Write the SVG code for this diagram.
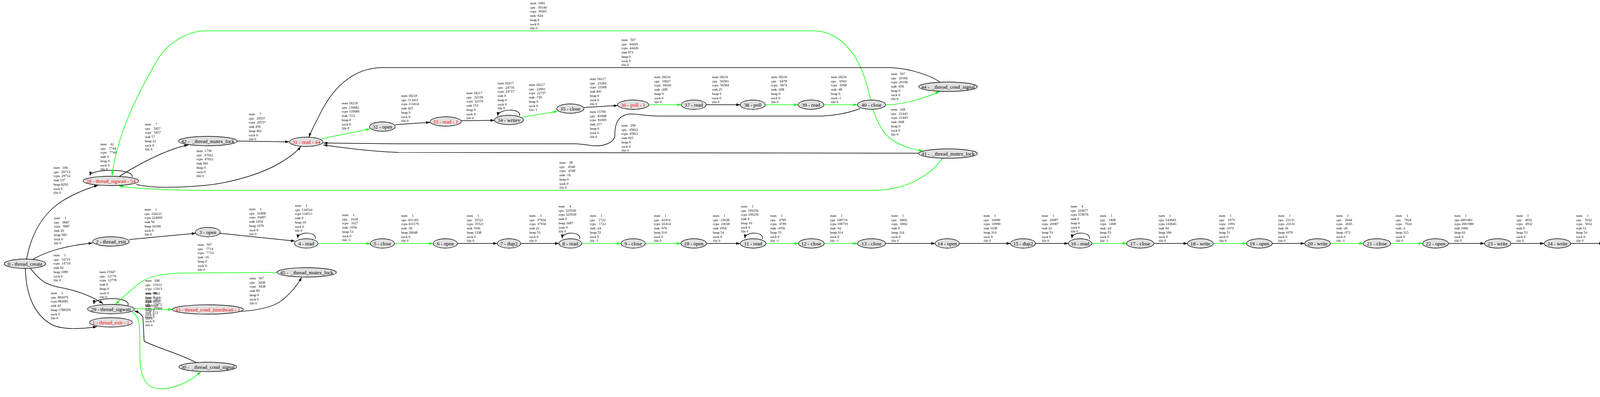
<svg xmlns="http://www.w3.org/2000/svg" width="4556" height="1016" viewBox="0 0 4556 1016">
<defs>
<marker id="ab" markerWidth="10" markerHeight="7" refX="10" refY="3.5" orient="auto" markerUnits="userSpaceOnUse"><path d="M0,0 L10,3.5 L0,7 z" fill="#000"/></marker>
<marker id="ag" markerWidth="10" markerHeight="7" refX="10" refY="3.5" orient="auto" markerUnits="userSpaceOnUse"><path d="M0,0 L10,3.5 L0,7 z" fill="#00ff00"/></marker>
<style>
.n ellipse{fill:#e0e0e0;stroke:#000;stroke-width:1.3}
.n text{font-family:"Liberation Serif",serif;font-size:13.2px;text-anchor:middle;fill:#000;white-space:pre}
.n.r text{fill:#ff0000}
.l{font-family:"Liberation Serif",serif;font-size:9px;fill:#000;white-space:pre}
#edges path{fill:none;stroke:#000;stroke-width:1.5;marker-end:url(#ab)}
#edges path.g{stroke:#00ff00;marker-end:url(#ag)}
</style>
</defs>
<rect width="4556" height="1016" fill="#fff"/>
<g id="edges">
<path d="M84,664 C115,645 170,628 237,622"/>
<path d="M68,663 C80,600 110,540 172,507 C195,494 225,482 251,474"/>
<path d="M78,687 C100,715 115,728 150,735 C190,742 230,755 264,777"/>
<path d="M65,687 C66,740 80,800 131,830 C160,845 210,842 248,836"/>
<path d="M331,613 L501,597"/>
<path d="M563,597 L755,617"/>
<path d="M327,782 C340,760 242,758 240,778"/>
<path d="M338,453 C346,431 234,431 230,449"/>
<path class="g" d="M344,790 L441,792"/>
<path d="M612,797 C660,795 700,785 720,770 C740,755 760,732 772,710"/>
<path class="g" d="M709,697 L455,699 C400,702 370,712 350,730 C330,748 312,762 296,779"/>
<path class="g" d="M338,798 C360,810 358,840 358,900 C357,960 370,995 410,995 C450,995 490,975 514,951"/>
<path d="M502,928 C460,905 400,890 369,873 L366,813 C362,803 352,798 344,796"/>
<path d="M306,451 C340,430 380,408 410,395 C440,382 460,375 482,371"/>
<path d="M607,361 L740,363"/>
<path d="M349,472 C390,482 450,481 520,475 C600,468 680,440 720,415 C745,400 760,388 770,375"/>
<path class="g" d="M823,355 L947,330"/>
<path d="M1012,319 L1101,313"/>
<path d="M1180,309 L1266,308"/>
<path d="M1330,296 C1336,277 1276,277 1274,297"/>
<path class="g" d="M1336,300 L1427,285"/>
<path d="M1495,275 L1581,270"/>
<path class="g" d="M1660,268 L1744,268"/>
<path d="M1808,268 L1895,268"/>
<path class="g" d="M1959,268 L2043,268"/>
<path class="g" d="M2108,268 L2195,268"/>
<path class="g" d="M2266,268 C2310,268 2360,255 2405,234"/>
<path class="g" d="M2235,280 C2245,310 2260,345 2290,362 C2315,377 2340,382 2362,386"/>
<path class="g" d="M2229,257 C2215,190 2190,120 2130,90 C2110,80 2095,79 2080,79 L523,79 C480,80 430,110 405,150 C360,225 300,340 287,449"/>
<path class="g" d="M2413,405 C2380,450 2320,487 2236,487 L485,487 C400,485 340,482 305,476"/>
<path d="M2406,210 C2385,195 2330,173 2270,173 L980,173 C900,173 850,230 820,290 C805,320 795,338 791,351"/>
<path d="M2202,278 C2170,290 2130,297 2095,297 L1686,297 C1650,297 1630,290 1610,292 C1580,296 1574,320 1574,345 C1574,365 1545,375 1520,373 C1500,371 1490,368 1470,368 L1020,368 L828,366"/>
<path d="M2352,392 L1020,390 C950,388 880,378 828,371"/>
<path d="M807,611 C812,593 763,591 762,610"/>
<path d="M1484,611 C1489,593 1440,591 1439,610"/>
<path d="M1952,611 C1957,593 1908,591 1907,610"/>
<path d="M2789,611 C2794,593 2745,591 2744,610"/>
<path class="g" d="M814,623 L948,623"/>
<path class="g" d="M1010,623 L1109,623"/>
<path d="M1171,623 L1273,623"/>
<path d="M1333,623 L1431,623"/>
<path class="g" d="M1489,623 L1590,623"/>
<path class="g" d="M1652,623 L1743,623"/>
<path d="M1809,623 L1895,623"/>
<path class="g" d="M1961,623 L2044,623"/>
<path class="g" d="M2110,623 L2195,623"/>
<path d="M2267,623 L2394,623"/>
<path d="M2456,623 L2587,623"/>
<path d="M2651,623 L2735,623"/>
<path class="g" d="M2795,623 L2884,623"/>
<path d="M2954,623 L3040,623"/>
<path class="g" d="M3106,623 L3191,623"/>
<path d="M3257,623 L3340,623"/>
<path class="g" d="M3406,623 L3490,623"/>
<path class="g" d="M3560,623 L3642,623"/>
<path d="M3708,623 L3800,623"/>
<path d="M3868,623 L3953,623"/>
<path d="M4021,623 L4104,623"/>
<path d="M4172,623 L4257,623"/>
<path class="g" d="M4325,623 L4409,623"/>
</g>
<g id="edge-labels">
<text class="l" transform="translate(137,432)"><tspan x="0">num   100</tspan><tspan x="0" dy="10.7">cpu   29713</tspan><tspan x="0" dy="10.7">rcpu  29712</tspan><tspan x="0" dy="10.7">stak 537</tspan><tspan x="0" dy="10.7">heap 8292</tspan><tspan x="0" dy="10.7">sock 0</tspan><tspan x="0" dy="10.7">file 0</tspan></text>
<text class="l" transform="translate(138,561)"><tspan x="0">num     1</tspan><tspan x="0" dy="10.7">cpu    9687</tspan><tspan x="0" dy="10.7">rcpu   9687</tspan><tspan x="0" dy="10.7">stak 26</tspan><tspan x="0" dy="10.7">heap 583</tspan><tspan x="0" dy="10.7">sock 0</tspan><tspan x="0" dy="10.7">file 0</tspan></text>
<text class="l" transform="translate(370,539)"><tspan x="0">num     1</tspan><tspan x="0" dy="10.7">cpu  224121</tspan><tspan x="0" dy="10.7">rcpu 224009</tspan><tspan x="0" dy="10.7">stak 56</tspan><tspan x="0" dy="10.7">heap 34166</tspan><tspan x="0" dy="10.7">sock 0</tspan><tspan x="0" dy="10.7">file 0</tspan></text>
<text class="l" transform="translate(137,656)"><tspan x="0">num     1</tspan><tspan x="0" dy="10.7">cpu   14719</tspan><tspan x="0" dy="10.7">rcpu  14719</tspan><tspan x="0" dy="10.7">stak 82</tspan><tspan x="0" dy="10.7">heap 1089</tspan><tspan x="0" dy="10.7">sock 0</tspan><tspan x="0" dy="10.7">file 0</tspan></text>
<text class="l" transform="translate(130,753)"><tspan x="0">num     1</tspan><tspan x="0" dy="10.7">cpu  882079</tspan><tspan x="0" dy="10.7">rcpu 882081</tspan><tspan x="0" dy="10.7">stak 42</tspan><tspan x="0" dy="10.7">heap 1788359</tspan><tspan x="0" dy="10.7">sock 0</tspan><tspan x="0" dy="10.7">file 0</tspan></text>
<text class="l" transform="translate(255,699)"><tspan x="0">num 15947</tspan><tspan x="0" dy="10.7">cpu   12779</tspan><tspan x="0" dy="10.7">rcpu  12778</tspan><tspan x="0" dy="10.7">stak 0</tspan><tspan x="0" dy="10.7">heap 0</tspan><tspan x="0" dy="10.7">sock 0</tspan><tspan x="0" dy="10.7">file 0</tspan></text>
<text class="l" transform="translate(506,629)"><tspan x="0">num   507</tspan><tspan x="0" dy="10.7">cpu    7714</tspan><tspan x="0" dy="10.7">rcpu   7714</tspan><tspan x="0" dy="10.7">stak -16</tspan><tspan x="0" dy="10.7">heap 0</tspan><tspan x="0" dy="10.7">sock 0</tspan><tspan x="0" dy="10.7">file 0</tspan></text>
<text class="l" transform="translate(639,715)"><tspan x="0">num   507</tspan><tspan x="0" dy="10.7">cpu    3438</tspan><tspan x="0" dy="10.7">rcpu   3438</tspan><tspan x="0" dy="10.7">stak 89</tspan><tspan x="0" dy="10.7">heap 0</tspan><tspan x="0" dy="10.7">sock 0</tspan><tspan x="0" dy="10.7">file 0</tspan></text>
<text class="l" transform="translate(372,721)"><tspan x="0">num   508</tspan><tspan x="0" dy="10.7">cpu   11913</tspan><tspan x="0" dy="10.7">rcpu  11913</tspan><tspan x="0" dy="10.7">stak -88</tspan><tspan x="0" dy="10.7">heap 0</tspan><tspan x="0" dy="10.7">sock 0</tspan><tspan x="0" dy="10.7">file 0</tspan></text>
<text class="l" transform="translate(372,754)"><tspan x="0">num  9861</tspan><tspan x="0" dy="10.7">cpu    9406</tspan><tspan x="0" dy="10.7">rcpu   9107</tspan><tspan x="0" dy="10.7">stak -105</tspan><tspan x="0" dy="10.7">heap 0</tspan><tspan x="0" dy="10.7">sock 0</tspan><tspan x="0" dy="10.7">file 0</tspan></text>
<text class="l" transform="translate(372,771)"><tspan x="0">num  1861</tspan><tspan x="0" dy="10.7">cpu   15972</tspan><tspan x="0" dy="10.7">rcpu  15968</tspan><tspan x="0" dy="10.7">stak -112</tspan><tspan x="0" dy="10.7">heap 0</tspan><tspan x="0" dy="10.7">sock 0</tspan><tspan x="0" dy="10.7">file 0</tspan></text>
<text class="l" transform="translate(257,372)"><tspan x="0">num    42</tspan><tspan x="0" dy="10.7">cpu    7744</tspan><tspan x="0" dy="10.7">rcpu   7744</tspan><tspan x="0" dy="10.7">stak 0</tspan><tspan x="0" dy="10.7">heap 0</tspan><tspan x="0" dy="10.7">sock 0</tspan><tspan x="0" dy="10.7">file 0</tspan></text>
<text class="l" transform="translate(371,321)"><tspan x="0">num     7</tspan><tspan x="0" dy="10.7">cpu    5457</tspan><tspan x="0" dy="10.7">rcpu   5457</tspan><tspan x="0" dy="10.7">stak 57</tspan><tspan x="0" dy="10.7">heap 22</tspan><tspan x="0" dy="10.7">sock 0</tspan><tspan x="0" dy="10.7">file 0</tspan></text>
<text class="l" transform="translate(637,295)"><tspan x="0">num     7</tspan><tspan x="0" dy="10.7">cpu   29557</tspan><tspan x="0" dy="10.7">rcpu  29557</tspan><tspan x="0" dy="10.7">stak 456</tspan><tspan x="0" dy="10.7">heap 462</tspan><tspan x="0" dy="10.7">sock 0</tspan><tspan x="0" dy="10.7">file 0</tspan></text>
<text class="l" transform="translate(503,389)"><tspan x="0">num  1758</tspan><tspan x="0" dy="10.7">cpu   47022</tspan><tspan x="0" dy="10.7">rcpu  47022</tspan><tspan x="0" dy="10.7">stak 841</tspan><tspan x="0" dy="10.7">heap 0</tspan><tspan x="0" dy="10.7">sock 0</tspan><tspan x="0" dy="10.7">file 0</tspan></text>
<text class="l" transform="translate(875,267)"><tspan x="0">num 18218</tspan><tspan x="0" dy="10.7">cpu  116682</tspan><tspan x="0" dy="10.7">rcpu 116686</tspan><tspan x="0" dy="10.7">stak -512</tspan><tspan x="0" dy="10.7">heap 0</tspan><tspan x="0" dy="10.7">sock 0</tspan><tspan x="0" dy="10.7">file 0</tspan></text>
<text class="l" transform="translate(1027,248)"><tspan x="0">num 18218</tspan><tspan x="0" dy="10.7">cpu  113411</tspan><tspan x="0" dy="10.7">rcpu 113414</tspan><tspan x="0" dy="10.7">stak 425</tspan><tspan x="0" dy="10.7">heap 0</tspan><tspan x="0" dy="10.7">sock 0</tspan><tspan x="0" dy="10.7">file 0</tspan></text>
<text class="l" transform="translate(1194,241)"><tspan x="0">num 18217</tspan><tspan x="0" dy="10.7">cpu   32158</tspan><tspan x="0" dy="10.7">rcpu  32159</tspan><tspan x="0" dy="10.7">stak 153</tspan><tspan x="0" dy="10.7">heap 0</tspan><tspan x="0" dy="10.7">sock 0</tspan><tspan x="0" dy="10.7">file 0</tspan></text>
<text class="l" transform="translate(1274,216)"><tspan x="0">num 18217</tspan><tspan x="0" dy="10.7">cpu   24716</tspan><tspan x="0" dy="10.7">rcpu  24717</tspan><tspan x="0" dy="10.7">stak 0</tspan><tspan x="0" dy="10.7">heap 0</tspan><tspan x="0" dy="10.7">sock 0</tspan><tspan x="0" dy="10.7">file 0</tspan></text>
<text class="l" transform="translate(1354,220)"><tspan x="0">num 18217</tspan><tspan x="0" dy="10.7">cpu   22691</tspan><tspan x="0" dy="10.7">rcpu  22737</tspan><tspan x="0" dy="10.7">stak -720</tspan><tspan x="0" dy="10.7">heap 0</tspan><tspan x="0" dy="10.7">sock 0</tspan><tspan x="0" dy="10.7">file -1</tspan></text>
<text class="l" transform="translate(1510,205)"><tspan x="0">num 18217</tspan><tspan x="0" dy="10.7">cpu   23284</tspan><tspan x="0" dy="10.7">rcpu  23306</tspan><tspan x="0" dy="10.7">stak 841</tspan><tspan x="0" dy="10.7">heap 0</tspan><tspan x="0" dy="10.7">sock 0</tspan><tspan x="0" dy="10.7">file 0</tspan></text>
<text class="l" transform="translate(1510,289)"><tspan x="0">num 15700</tspan><tspan x="0" dy="10.7">cpu   81008</tspan><tspan x="0" dy="10.7">rcpu  81005</tspan><tspan x="0" dy="10.7">stak 217</tspan><tspan x="0" dy="10.7">heap 0</tspan><tspan x="0" dy="10.7">sock 0</tspan><tspan x="0" dy="10.7">file 0</tspan></text>
<text class="l" transform="translate(1591,324)"><tspan x="0">num   290</tspan><tspan x="0" dy="10.7">cpu   45822</tspan><tspan x="0" dy="10.7">rcpu  45821</tspan><tspan x="0" dy="10.7">stak 825</tspan><tspan x="0" dy="10.7">heap 0</tspan><tspan x="0" dy="10.7">sock 0</tspan><tspan x="0" dy="10.7">file 0</tspan></text>
<text class="l" transform="translate(1432,419)"><tspan x="0">num    38</tspan><tspan x="0" dy="10.7">cpu    4548</tspan><tspan x="0" dy="10.7">rcpu   4548</tspan><tspan x="0" dy="10.7">stak -16</tspan><tspan x="0" dy="10.7">heap 0</tspan><tspan x="0" dy="10.7">sock 0</tspan><tspan x="0" dy="10.7">file 0</tspan></text>
<text class="l" transform="translate(1675,200)"><tspan x="0">num 18216</tspan><tspan x="0" dy="10.7">cpu   16027</tspan><tspan x="0" dy="10.7">rcpu  16026</tspan><tspan x="0" dy="10.7">stak -208</tspan><tspan x="0" dy="10.7">heap 0</tspan><tspan x="0" dy="10.7">sock 0</tspan><tspan x="0" dy="10.7">file 0</tspan></text>
<text class="l" transform="translate(1823,200)"><tspan x="0">num 18216</tspan><tspan x="0" dy="10.7">cpu   56583</tspan><tspan x="0" dy="10.7">rcpu  56584</tspan><tspan x="0" dy="10.7">stak 25</tspan><tspan x="0" dy="10.7">heap 0</tspan><tspan x="0" dy="10.7">sock 0</tspan><tspan x="0" dy="10.7">file 0</tspan></text>
<text class="l" transform="translate(1974,200)"><tspan x="0">num 18216</tspan><tspan x="0" dy="10.7">cpu    9478</tspan><tspan x="0" dy="10.7">rcpu   9474</tspan><tspan x="0" dy="10.7">stak -208</tspan><tspan x="0" dy="10.7">heap 0</tspan><tspan x="0" dy="10.7">sock 0</tspan><tspan x="0" dy="10.7">file 0</tspan></text>
<text class="l" transform="translate(2127,200)"><tspan x="0">num 18216</tspan><tspan x="0" dy="10.7">cpu    6565</tspan><tspan x="0" dy="10.7">rcpu   6568</tspan><tspan x="0" dy="10.7">stak -48</tspan><tspan x="0" dy="10.7">heap 0</tspan><tspan x="0" dy="10.7">sock -1</tspan><tspan x="0" dy="10.7">file 0</tspan></text>
<text class="l" transform="translate(2281,192)"><tspan x="0">num   507</tspan><tspan x="0" dy="10.7">cpu   29166</tspan><tspan x="0" dy="10.7">rcpu  29166</tspan><tspan x="0" dy="10.7">stak -656</tspan><tspan x="0" dy="10.7">heap 0</tspan><tspan x="0" dy="10.7">sock 0</tspan><tspan x="0" dy="10.7">file 0</tspan></text>
<text class="l" transform="translate(2281,283)"><tspan x="0">num   328</tspan><tspan x="0" dy="10.7">cpu   21443</tspan><tspan x="0" dy="10.7">rcpu  21443</tspan><tspan x="0" dy="10.7">stak -608</tspan><tspan x="0" dy="10.7">heap 0</tspan><tspan x="0" dy="10.7">sock 0</tspan><tspan x="0" dy="10.7">file 0</tspan></text>
<text class="l" transform="translate(1591,105)"><tspan x="0">num   507</tspan><tspan x="0" dy="10.7">cpu   44426</tspan><tspan x="0" dy="10.7">rcpu  44426</tspan><tspan x="0" dy="10.7">stak 873</tspan><tspan x="0" dy="10.7">heap 0</tspan><tspan x="0" dy="10.7">sock 0</tspan><tspan x="0" dy="10.7">file 0</tspan></text>
<text class="l" transform="translate(1357,11)"><tspan x="0">num  1681</tspan><tspan x="0" dy="10.7">cpu   39144</tspan><tspan x="0" dy="10.7">rcpu  39301</tspan><tspan x="0" dy="10.7">stak -624</tspan><tspan x="0" dy="10.7">heap 0</tspan><tspan x="0" dy="10.7">sock 0</tspan><tspan x="0" dy="10.7">file 0</tspan></text>
<text class="l" transform="translate(638,538)"><tspan x="0">num     1</tspan><tspan x="0" dy="10.7">cpu   33498</tspan><tspan x="0" dy="10.7">rcpu  33497</tspan><tspan x="0" dy="10.7">stak 1054</tspan><tspan x="0" dy="10.7">heap 1079</tspan><tspan x="0" dy="10.7">sock 0</tspan><tspan x="0" dy="10.7">file 0</tspan></text>
<text class="l" transform="translate(755,529)"><tspan x="0">num     1</tspan><tspan x="0" dy="10.7">cpu  134524</tspan><tspan x="0" dy="10.7">rcpu 134511</tspan><tspan x="0" dy="10.7">stak 0</tspan><tspan x="0" dy="10.7">heap 10</tspan><tspan x="0" dy="10.7">sock 0</tspan><tspan x="0" dy="10.7">file 0</tspan></text>
<text class="l" transform="translate(876,553)"><tspan x="0">num     1</tspan><tspan x="0" dy="10.7">cpu    3318</tspan><tspan x="0" dy="10.7">rcpu   3327</tspan><tspan x="0" dy="10.7">stak -1056</tspan><tspan x="0" dy="10.7">heap 53</tspan><tspan x="0" dy="10.7">sock 0</tspan><tspan x="0" dy="10.7">file -1</tspan></text>
<text class="l" transform="translate(1027,555)"><tspan x="0">num     1</tspan><tspan x="0" dy="10.7">cpu  431183</tspan><tspan x="0" dy="10.7">rcpu 431179</tspan><tspan x="0" dy="10.7">stak -56</tspan><tspan x="0" dy="10.7">heap 26648</tspan><tspan x="0" dy="10.7">sock 0</tspan><tspan x="0" dy="10.7">file 0</tspan></text>
<text class="l" transform="translate(1195,555)"><tspan x="0">num     1</tspan><tspan x="0" dy="10.7">cpu   35521</tspan><tspan x="0" dy="10.7">rcpu  35521</tspan><tspan x="0" dy="10.7">stak 1036</tspan><tspan x="0" dy="10.7">heap 1338</tspan><tspan x="0" dy="10.7">sock 0</tspan><tspan x="0" dy="10.7">file 0</tspan></text>
<text class="l" transform="translate(1355,555)"><tspan x="0">num     1</tspan><tspan x="0" dy="10.7">cpu   37934</tspan><tspan x="0" dy="10.7">rcpu  37934</tspan><tspan x="0" dy="10.7">stak 22</tspan><tspan x="0" dy="10.7">heap 53</tspan><tspan x="0" dy="10.7">sock 0</tspan><tspan x="0" dy="10.7">file 0</tspan></text>
<text class="l" transform="translate(1430,531)"><tspan x="0">num     4</tspan><tspan x="0" dy="10.7">cpu  325939</tspan><tspan x="0" dy="10.7">rcpu 325939</tspan><tspan x="0" dy="10.7">stak 0</tspan><tspan x="0" dy="10.7">heap 1687</tspan><tspan x="0" dy="10.7">sock 0</tspan><tspan x="0" dy="10.7">file 0</tspan></text>
<text class="l" transform="translate(1510,555)"><tspan x="0">num     1</tspan><tspan x="0" dy="10.7">cpu    1722</tspan><tspan x="0" dy="10.7">rcpu   1722</tspan><tspan x="0" dy="10.7">stak -24</tspan><tspan x="0" dy="10.7">heap 53</tspan><tspan x="0" dy="10.7">sock 0</tspan><tspan x="0" dy="10.7">file -1</tspan></text>
<text class="l" transform="translate(1674,555)"><tspan x="0">num     1</tspan><tspan x="0" dy="10.7">cpu   61414</tspan><tspan x="0" dy="10.7">rcpu  61414</tspan><tspan x="0" dy="10.7">stak -976</tspan><tspan x="0" dy="10.7">heap 314</tspan><tspan x="0" dy="10.7">sock 0</tspan><tspan x="0" dy="10.7">file 0</tspan></text>
<text class="l" transform="translate(1825,555)"><tspan x="0">num     1</tspan><tspan x="0" dy="10.7">cpu   23038</tspan><tspan x="0" dy="10.7">rcpu  23038</tspan><tspan x="0" dy="10.7">stak 1054</tspan><tspan x="0" dy="10.7">heap 54</tspan><tspan x="0" dy="10.7">sock 0</tspan><tspan x="0" dy="10.7">file 0</tspan></text>
<text class="l" transform="translate(1897,531)"><tspan x="0">num     1</tspan><tspan x="0" dy="10.7">cpu  109256</tspan><tspan x="0" dy="10.7">rcpu 109256</tspan><tspan x="0" dy="10.7">stak 0</tspan><tspan x="0" dy="10.7">heap 10</tspan><tspan x="0" dy="10.7">sock 0</tspan><tspan x="0" dy="10.7">file 0</tspan></text>
<text class="l" transform="translate(1972,555)"><tspan x="0">num     1</tspan><tspan x="0" dy="10.7">cpu    4789</tspan><tspan x="0" dy="10.7">rcpu   4789</tspan><tspan x="0" dy="10.7">stak -1056</tspan><tspan x="0" dy="10.7">heap 53</tspan><tspan x="0" dy="10.7">sock 0</tspan><tspan x="0" dy="10.7">file -1</tspan></text>
<text class="l" transform="translate(2125,555)"><tspan x="0">num     1</tspan><tspan x="0" dy="10.7">cpu  108719</tspan><tspan x="0" dy="10.7">rcpu 108719</tspan><tspan x="0" dy="10.7">stak -62</tspan><tspan x="0" dy="10.7">heap 314</tspan><tspan x="0" dy="10.7">sock 0</tspan><tspan x="0" dy="10.7">file -1</tspan></text>
<text class="l" transform="translate(2282,555)"><tspan x="0">num     1</tspan><tspan x="0" dy="10.7">cpu    6002</tspan><tspan x="0" dy="10.7">rcpu   6002</tspan><tspan x="0" dy="10.7">stak 4</tspan><tspan x="0" dy="10.7">heap 314</tspan><tspan x="0" dy="10.7">sock 0</tspan><tspan x="0" dy="10.7">file 0</tspan></text>
<text class="l" transform="translate(2518,555)"><tspan x="0">num     1</tspan><tspan x="0" dy="10.7">cpu   10990</tspan><tspan x="0" dy="10.7">rcpu  10990</tspan><tspan x="0" dy="10.7">stak 1038</tspan><tspan x="0" dy="10.7">heap 314</tspan><tspan x="0" dy="10.7">sock 0</tspan><tspan x="0" dy="10.7">file 0</tspan></text>
<text class="l" transform="translate(2667,555)"><tspan x="0">num     1</tspan><tspan x="0" dy="10.7">cpu   26987</tspan><tspan x="0" dy="10.7">rcpu  26987</tspan><tspan x="0" dy="10.7">stak 22</tspan><tspan x="0" dy="10.7">heap 53</tspan><tspan x="0" dy="10.7">sock 0</tspan><tspan x="0" dy="10.7">file 0</tspan></text>
<text class="l" transform="translate(2741,531)"><tspan x="0">num     4</tspan><tspan x="0" dy="10.7">cpu  319077</tspan><tspan x="0" dy="10.7">rcpu 319076</tspan><tspan x="0" dy="10.7">stak 0</tspan><tspan x="0" dy="10.7">heap 6</tspan><tspan x="0" dy="10.7">sock 0</tspan><tspan x="0" dy="10.7">file 0</tspan></text>
<text class="l" transform="translate(2816,555)"><tspan x="0">num     1</tspan><tspan x="0" dy="10.7">cpu    1408</tspan><tspan x="0" dy="10.7">rcpu   1408</tspan><tspan x="0" dy="10.7">stak -24</tspan><tspan x="0" dy="10.7">heap 53</tspan><tspan x="0" dy="10.7">sock 0</tspan><tspan x="0" dy="10.7">file -1</tspan></text>
<text class="l" transform="translate(2966,555)"><tspan x="0">num     1</tspan><tspan x="0" dy="10.7">cpu  143643</tspan><tspan x="0" dy="10.7">rcpu 143643</tspan><tspan x="0" dy="10.7">stak 44</tspan><tspan x="0" dy="10.7">heap 184</tspan><tspan x="0" dy="10.7">sock 0</tspan><tspan x="0" dy="10.7">file 0</tspan></text>
<text class="l" transform="translate(3121,555)"><tspan x="0">num     1</tspan><tspan x="0" dy="10.7">cpu    1979</tspan><tspan x="0" dy="10.7">rcpu   1991</tspan><tspan x="0" dy="10.7">stak -1070</tspan><tspan x="0" dy="10.7">heap 51</tspan><tspan x="0" dy="10.7">sock 0</tspan><tspan x="0" dy="10.7">file 0</tspan></text>
<text class="l" transform="translate(3272,555)"><tspan x="0">num     1</tspan><tspan x="0" dy="10.7">cpu   23131</tspan><tspan x="0" dy="10.7">rcpu  23131</tspan><tspan x="0" dy="10.7">stak 34</tspan><tspan x="0" dy="10.7">heap 1078</tspan><tspan x="0" dy="10.7">sock 0</tspan><tspan x="0" dy="10.7">file 0</tspan></text>
<text class="l" transform="translate(3421,555)"><tspan x="0">num     1</tspan><tspan x="0" dy="10.7">cpu    2044</tspan><tspan x="0" dy="10.7">rcpu   2045</tspan><tspan x="0" dy="10.7">stak -26</tspan><tspan x="0" dy="10.7">heap -972</tspan><tspan x="0" dy="10.7">sock 0</tspan><tspan x="0" dy="10.7">file -1</tspan></text>
<text class="l" transform="translate(3573,555)"><tspan x="0">num     1</tspan><tspan x="0" dy="10.7">cpu    7024</tspan><tspan x="0" dy="10.7">rcpu   7024</tspan><tspan x="0" dy="10.7">stak -2</tspan><tspan x="0" dy="10.7">heap 315</tspan><tspan x="0" dy="10.7">sock 0</tspan><tspan x="0" dy="10.7">file 0</tspan></text>
<text class="l" transform="translate(3723,555)"><tspan x="0">num     1</tspan><tspan x="0" dy="10.7">cpu 2001981</tspan><tspan x="0" dy="10.7">rcpu 2001980</tspan><tspan x="0" dy="10.7">stak 1066</tspan><tspan x="0" dy="10.7">heap 63</tspan><tspan x="0" dy="10.7">sock 0</tspan><tspan x="0" dy="10.7">file 0</tspan></text>
<text class="l" transform="translate(3882,555)"><tspan x="0">num     1</tspan><tspan x="0" dy="10.7">cpu    4932</tspan><tspan x="0" dy="10.7">rcpu   4932</tspan><tspan x="0" dy="10.7">stak 0</tspan><tspan x="0" dy="10.7">heap 53</tspan><tspan x="0" dy="10.7">sock 0</tspan><tspan x="0" dy="10.7">file 0</tspan></text>
<text class="l" transform="translate(4035,555)"><tspan x="0">num     1</tspan><tspan x="0" dy="10.7">cpu    5032</tspan><tspan x="0" dy="10.7">rcpu   5032</tspan><tspan x="0" dy="10.7">stak 12</tspan><tspan x="0" dy="10.7">heap 54</tspan><tspan x="0" dy="10.7">sock 0</tspan><tspan x="0" dy="10.7">file 0</tspan></text>
<text class="l" transform="translate(4187,555)"><tspan x="0">num     1</tspan><tspan x="0" dy="10.7">cpu    2833</tspan><tspan x="0" dy="10.7">rcpu   2833</tspan><tspan x="0" dy="10.7">stak 0</tspan><tspan x="0" dy="10.7">heap 54</tspan><tspan x="0" dy="10.7">sock 0</tspan><tspan x="0" dy="10.7">file 0</tspan></text>
<text class="l" transform="translate(4338,555)"><tspan x="0">num     1</tspan><tspan x="0" dy="10.7">cpu   73386</tspan><tspan x="0" dy="10.7">rcpu  73386</tspan><tspan x="0" dy="10.7">stak -1064</tspan><tspan x="0" dy="10.7">heap 17031</tspan><tspan x="0" dy="10.7">sock 0</tspan><tspan x="0" dy="10.7">file 0</tspan></text>
</g>
<g id="n0" class="n"><ellipse cx="64" cy="675" rx="53" ry="12"/><text x="64" y="679.5">0 - thread_create</text></g>
<g id="n1" class="n r"><ellipse cx="284" cy="825" rx="55" ry="12"/><text x="284" y="829.5">1 - thread_exit - 1</text></g>
<g id="n2" class="n"><ellipse cx="284" cy="618" rx="47" ry="12"/><text x="284" y="622.5">2 - thread_exit</text></g>
<g id="n3" class="n"><ellipse cx="532" cy="594" rx="32" ry="12"/><text x="532" y="598.5">3 - open</text></g>
<g id="n4" class="n"><ellipse cx="784" cy="623" rx="30" ry="12"/><text x="784" y="627.5">4 - read</text></g>
<g id="n5" class="n"><ellipse cx="979" cy="623" rx="31" ry="12"/><text x="979" y="627.5">5 - close</text></g>
<g id="n6" class="n"><ellipse cx="1140" cy="623" rx="31" ry="12"/><text x="1140" y="627.5">6 - open</text></g>
<g id="n7" class="n"><ellipse cx="1303" cy="623" rx="30" ry="12"/><text x="1303" y="627.5">7 - dup2</text></g>
<g id="n8" class="n"><ellipse cx="1460" cy="623" rx="29" ry="12"/><text x="1460" y="627.5">8 - read</text></g>
<g id="n9" class="n"><ellipse cx="1621" cy="623" rx="31" ry="12"/><text x="1621" y="627.5">9 - close</text></g>
<g id="n10" class="n"><ellipse cx="1776" cy="623" rx="33" ry="12"/><text x="1776" y="627.5">10 - open</text></g>
<g id="n11" class="n"><ellipse cx="1928" cy="623" rx="33" ry="12"/><text x="1928" y="627.5">11 - read</text></g>
<g id="n12" class="n"><ellipse cx="2077" cy="623" rx="33" ry="12"/><text x="2077" y="627.5">12 - close</text></g>
<g id="n13" class="n"><ellipse cx="2231" cy="623" rx="36" ry="12"/><text x="2231" y="627.5">13 - close</text></g>
<g id="n14" class="n"><ellipse cx="2425" cy="623" rx="31" ry="12"/><text x="2425" y="627.5">14 - open</text></g>
<g id="n15" class="n"><ellipse cx="2619" cy="623" rx="32" ry="12"/><text x="2619" y="627.5">15 - dup2</text></g>
<g id="n16" class="n"><ellipse cx="2765" cy="623" rx="30" ry="12"/><text x="2765" y="627.5">16 - read</text></g>
<g id="n17" class="n"><ellipse cx="2919" cy="623" rx="35" ry="12"/><text x="2919" y="627.5">17 - close</text></g>
<g id="n18" class="n"><ellipse cx="3073" cy="623" rx="33" ry="12"/><text x="3073" y="627.5">18 - write</text></g>
<g id="n19" class="n"><ellipse cx="3224" cy="623" rx="33" ry="12"/><text x="3224" y="627.5">19 - open</text></g>
<g id="n20" class="n"><ellipse cx="3373" cy="623" rx="33" ry="12"/><text x="3373" y="627.5">20 - write</text></g>
<g id="n21" class="n"><ellipse cx="3525" cy="623" rx="35" ry="12"/><text x="3525" y="627.5">21 - close</text></g>
<g id="n22" class="n"><ellipse cx="3675" cy="623" rx="33" ry="12"/><text x="3675" y="627.5">22 - open</text></g>
<g id="n23" class="n"><ellipse cx="3834" cy="623" rx="34" ry="12"/><text x="3834" y="627.5">23 - write</text></g>
<g id="n24" class="n"><ellipse cx="3987" cy="623" rx="34" ry="12"/><text x="3987" y="627.5">24 - write</text></g>
<g id="n25" class="n"><ellipse cx="4138" cy="623" rx="34" ry="12"/><text x="4138" y="627.5">25 - write</text></g>
<g id="n26" class="n"><ellipse cx="4291" cy="623" rx="34" ry="12"/><text x="4291" y="627.5">26 - write</text></g>
<g id="n27" class="n r"><ellipse cx="4477" cy="623" rx="68" ry="12"/><text x="4477" y="627.5">27 - thread_sigwait - 1</text></g>
<g id="n28" class="n r"><ellipse cx="284" cy="463" rx="71" ry="12"/><text x="284" y="467.5">28 - thread_sigwait - 54</text></g>
<g id="n29" class="n"><ellipse cx="284" cy="791" rx="60" ry="12"/><text x="284" y="795.5">29 - thread_sigwait</text></g>
<g id="n30" class="n"><ellipse cx="532" cy="939" rx="74" ry="12"/><text x="532" y="943.5">30 -  _thread_cond_signal</text></g>
<g id="n31" class="n r"><ellipse cx="784" cy="363" rx="43" ry="12"/><text x="784" y="367.5">31 - read - 44</text></g>
<g id="n32" class="n"><ellipse cx="979" cy="324" rx="33" ry="12"/><text x="979" y="328.5">32 - open</text></g>
<g id="n33" class="n r"><ellipse cx="1141" cy="311" rx="40" ry="12"/><text x="1141" y="315.5">33 - read - 1</text></g>
<g id="n34" class="n"><ellipse cx="1303" cy="307" rx="37" ry="12"/><text x="1303" y="311.5">34 - writev</text></g>
<g id="n35" class="n"><ellipse cx="1460" cy="278" rx="35" ry="12"/><text x="1460" y="282.5">35 - close</text></g>
<g id="n36" class="n r"><ellipse cx="1621" cy="268" rx="40" ry="12"/><text x="1621" y="272.5">36 - poll - 1</text></g>
<g id="n37" class="n"><ellipse cx="1776" cy="268" rx="32" ry="12"/><text x="1776" y="272.5">37 - read</text></g>
<g id="n38" class="n"><ellipse cx="1927" cy="268" rx="32" ry="12"/><text x="1927" y="272.5">38 - poll</text></g>
<g id="n39" class="n"><ellipse cx="2076" cy="268" rx="33" ry="12"/><text x="2076" y="272.5">39 - read</text></g>
<g id="n40" class="n"><ellipse cx="2231" cy="268" rx="36" ry="12"/><text x="2231" y="272.5">40 - close</text></g>
<g id="n41" class="n"><ellipse cx="2427" cy="393" rx="75" ry="12"/><text x="2427" y="397.5">41 -  _thread_mutex_lock</text></g>
<g id="n42" class="n"><ellipse cx="532" cy="361" rx="75" ry="12"/><text x="532" y="365.5">42 -  _thread_mutex_lock</text></g>
<g id="n43" class="n r"><ellipse cx="532" cy="792" rx="91" ry="12"/><text x="532" y="796.5">43 - thread_cond_timedwait - 1</text></g>
<g id="n44" class="n"><ellipse cx="2427" cy="222" rx="75" ry="12"/><text x="2427" y="226.5">44 -  _thread_cond_signal</text></g>
<g id="n45" class="n"><ellipse cx="785" cy="697" rx="76" ry="12"/><text x="785" y="701.5">45 -  _thread_mutex_lock</text></g>
</svg>
